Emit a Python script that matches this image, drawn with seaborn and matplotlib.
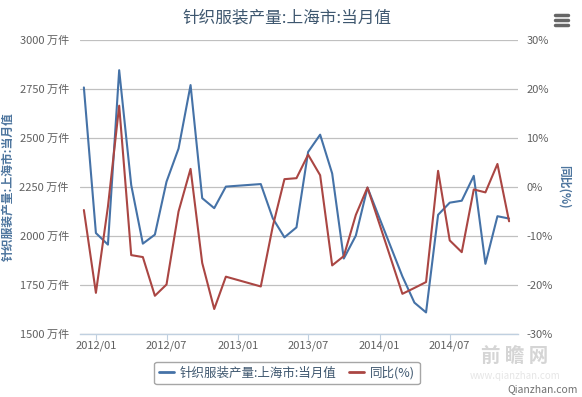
import pandas as pd
import numpy as np
import matplotlib.pyplot as plt
import matplotlib.dates as mdates
from matplotlib.lines import Line2D
import seaborn as sns

# monthly data (Jan/Feb of 2013 and 2014 are not published)
months = ['2011-12', '2012-01', '2012-02', '2012-03', '2012-04', '2012-05', '2012-06',
          '2012-07', '2012-08', '2012-09', '2012-10', '2012-11', '2012-12',
          '2013-03', '2013-04', '2013-05', '2013-06', '2013-07', '2013-08',
          '2013-09', '2013-10', '2013-11', '2013-12',
          '2014-03', '2014-04', '2014-05', '2014-06', '2014-07', '2014-08',
          '2014-09', '2014-10', '2014-11', '2014-12']
output = [2758, 2015, 1956, 2846, 2260, 1961, 2007,
          2277, 2446, 2770, 2193, 2142, 2252,
          2265, 2090, 1993, 2044, 2429, 2517,
          2319, 1885, 2002, 2247,
          1794, 1660, 1610, 2108, 2170, 2180,
          2307, 1858, 2101, 2089]  # 万件
yoy = [-4.7, -21.6, -4.0, 16.6, -13.9, -14.3, -22.2,
       -19.9, -5.0, 3.7, -15.5, -24.9, -18.3,
       -20.3, -8.0, 1.6, 1.8, 6.6, 2.4,
       -16.0, -14.1, -5.7, -0.1,
       -21.8, -20.6, -19.4, 3.3, -10.9, -13.3,
       -0.5, -1.1, 4.7, -7.0]  # %

left_ticks = [1500, 1750, 2000, 2250, 2500, 2750, 3000]
right_ticks = [-30, -20, -10, 0, 10, 20, 30]
x_ticks = ['2012-01', '2012-07', '2013-01', '2013-07', '2014-01', '2014-07']

title = '针织服装产量:上海市:当月值'
name1 = '针织服装产量:上海市:当月值'
name2 = '同比(%)'

blue = '#4572A7'
red = '#AA4643'

sns.set_theme(style='white')
plt.rcParams['font.family'] = ['Noto Sans CJK SC', 'DejaVu Sans']

df = pd.DataFrame({'month': pd.to_datetime(months), 'output': output, 'yoy': yoy})

fig = plt.figure(figsize=(5.82, 3.97), dpi=100)
ax = fig.add_axes([80 / 582, 63 / 397, 438 / 582, 294 / 397])
ax2 = ax.twinx()

sns.lineplot(data=df, x='month', y='output', ax=ax, color=blue, lw=1.5)
sns.lineplot(data=df, x='month', y='yoy', ax=ax2, color=red, lw=1.5)

ax.set_xlim(df['month'].iloc[0] - pd.Timedelta(days=10),
            df['month'].iloc[-1] + pd.Timedelta(days=23))
ax.set_ylim(1500, 3000)
ax2.set_ylim(-30, 30)

ax.set_yticks(left_ticks)
ax.set_yticklabels([f'{v} 万件' for v in left_ticks])
ax2.set_yticks(right_ticks)
ax2.set_yticklabels([f'{v}%' for v in right_ticks])
ax.set_xticks(pd.to_datetime(x_ticks))
ax.xaxis.set_major_formatter(mdates.DateFormatter('%Y/%m'))

ax.grid(axis='y', color='#C0C0C0', lw=0.9)
ax.grid(axis='x', visible=False)
for s in ['top', 'left', 'right']:
    ax.spines[s].set_visible(False)
for s in ax2.spines.values():
    s.set_visible(False)
ax.spines['bottom'].set_color('#C0D0E0')
ax.spines['bottom'].set_linewidth(1.0)

ax.tick_params(axis='y', length=0, pad=8, labelsize=8, labelcolor='#606060')
ax2.tick_params(axis='y', length=0, pad=6, labelsize=8, labelcolor='#606060')
ax.tick_params(axis='x', length=4, width=0.8, color='#C0D0E0', pad=1,
               labelsize=8, labelcolor='#606060', bottom=True)

ax.set_xlabel('')
ax.set_ylabel(name1, color='#4D759E', fontsize=8.5, fontweight='bold')
ax.yaxis.set_label_coords(-0.150, 0.5)
ax2.set_ylabel(name2, color='#4D759E', fontsize=8.5, fontweight='bold', rotation=270)
ax2.yaxis.set_label_coords(1.12, 0.5)

fig.text(287 / 582, 1 - 18 / 397, title, ha='center', va='center',
         fontsize=12, color='#3E576F')

handles = [Line2D([], [], color=blue, lw=2), Line2D([], [], color=red, lw=2)]
leg = fig.legend(handles, [name1, name2], loc='center', ncol=2,
                 bbox_to_anchor=(287 / 582, 1 - 373 / 397), fontsize=9,
                 frameon=True, fancybox=True, edgecolor='#909090',
                 handlelength=1.2, handletextpad=0.5, columnspacing=1.0,
                 borderpad=0.35)
for t in leg.get_texts():
    t.set_color('#3E576F')

# export menu icon
for yy in [15, 20, 25]:
    fig.add_artist(Line2D([555 / 582, 568 / 582], [1 - yy / 397] * 2,
                          color='#666666', lw=2.5, solid_capstyle='round'))

# watermark
fig.text(515 / 582, 1 - 357 / 397, '前 瞻 网', ha='center', va='center',
         fontsize=14, color='#D5D5D5', fontweight='bold')
fig.text(515 / 582, 1 - 376 / 397, 'www.qianzhan.com', ha='center', va='center',
         fontsize=7, color='#E6E6E6')
fig.text(578 / 582, 1 - 389 / 397, 'Qianzhan.com', ha='right', va='center',
         fontsize=7.5, color='#707070')

fig.savefig('out.png', dpi=100)
